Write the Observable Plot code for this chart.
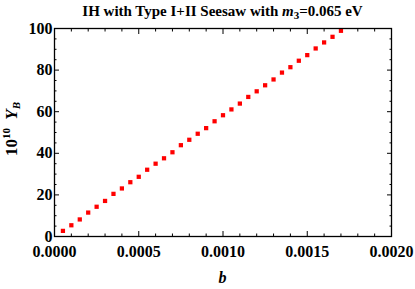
<!DOCTYPE html>
<html>
<head>
<meta charset="utf-8">
<script src="https://cdn.jsdelivr.net/npm/d3@7"></script>
<script src="https://cdn.jsdelivr.net/npm/@observablehq/plot@0.6"></script>
<style>
  html, body { margin: 0; padding: 0; background: #fff; }
  #chart { width: 415px; height: 289px; }
</style>
</head>
<body>
<div id="chart"></div>
<script>
// Data
const bValues = [0.00005, 0.00010, 0.00015, 0.00020, 0.00025, 0.00030, 0.00035, 0.00040, 0.00045, 0.00050,
                 0.00055, 0.00060, 0.00065, 0.00070, 0.00075, 0.00080, 0.00085, 0.00090, 0.00095, 0.00100,
                 0.00105, 0.00110, 0.00115, 0.00120, 0.00125, 0.00130, 0.00135, 0.00140, 0.00145, 0.00150,
                 0.00155, 0.00160, 0.00165, 0.00170];
const YBValues = [2.7, 5.4, 8.2, 11.5, 14.3, 17.1, 20.5, 23.1, 26.1, 28.7,
                  32.1, 35.0, 37.6, 40.5, 43.9, 46.5, 49.4, 52.1, 55.4, 58.3,
                  61.1, 63.9, 67.1, 69.8, 72.7, 75.5, 78.8, 81.4, 84.5, 87.2,
                  90.4, 93.3, 96.0, 98.9];
const xMajorTicks = [0, 0.0005, 0.0010, 0.0015, 0.0020];
const xMinorTicks = [0.0001, 0.0002, 0.0003, 0.0004, 0.0006, 0.0007, 0.0008, 0.0009,
                     0.0011, 0.0012, 0.0013, 0.0014, 0.0016, 0.0017, 0.0018, 0.0019];
const yMajorTicks = [0, 20, 40, 60, 80, 100];
const yMinorTicks = [5, 10, 15, 25, 30, 35, 45, 50, 55, 65, 70, 75, 85, 90, 95];
const titleMain = "IH with Type I+II Seesaw with ";
const titleVar = "m";
const titleSub = "3";
const titleRest = "=0.065 eV";
const xLabel = "b";

const data = bValues.map((b, i) => ({b, y: YBValues[i]}));

const font = "'Liberation Serif', 'Times New Roman', serif";
const noText = () => "";

function tickAxes(axisFn, anchors, major, minor) {
  const out = [];
  for (const anchor of anchors) {
    out.push(axisFn({anchor, ticks: major, tickSize: -5, tickFormat: noText, label: null, strokeWidth: 1}));
    out.push(axisFn({anchor, ticks: minor, tickSize: -2.5, tickFormat: noText, label: null, strokeWidth: 1}));
  }
  return out;
}

const plot = Plot.plot({
  width: 415,
  height: 289,
  marginLeft: 54,
  marginRight: 24,
  marginTop: 28,
  marginBottom: 53,
  x: {domain: [0, 0.002]},
  y: {domain: [0, 100]},
  style: {fontFamily: font, fontWeight: "bold", fontSize: "16px", color: "black", background: "white"},
  marks: [
    ...tickAxes(Plot.axisX, ["bottom", "top"], xMajorTicks, xMinorTicks),
    ...tickAxes(Plot.axisY, ["left", "right"], yMajorTicks, yMinorTicks),
    Plot.axisX({anchor: "bottom", ticks: xMajorTicks, tickSize: 0, tickPadding: 9, tickFormat: d3.format(".4f"), label: null}),
    Plot.axisY({anchor: "left", ticks: yMajorTicks, tickSize: 0, tickPadding: 2, tickFormat: d3.format("d"), label: null}),
    Plot.dot(data, {x: "b", y: "y", symbol: "square", r: 2.4, fill: "#ff0000", stroke: "none"}),
    Plot.frame({stroke: "black", strokeWidth: 1.3})
  ]
});

document.getElementById("chart").appendChild(plot);

// Titles and axis labels with rich formatting
const svg = d3.select(plot);
const xs = plot.scale("x").range;
const ys = plot.scale("y").range;
const cx = (xs[0] + xs[1]) / 2;
const cy = (ys[0] + ys[1]) / 2;

const t = svg.append("text")
  .attr("x", cx).attr("y", 16)
  .attr("text-anchor", "middle")
  .style("font-family", font).style("font-weight", "bold").style("font-size", "15px");
t.append("tspan").text(titleMain);
t.append("tspan").style("font-style", "italic").text(titleVar);
t.append("tspan").attr("dy", 3).style("font-size", "11px").text(titleSub);
t.append("tspan").attr("dy", -3).text(titleRest);

svg.append("text")
  .attr("x", cx).attr("y", 283)
  .attr("text-anchor", "middle")
  .style("font-family", font).style("font-weight", "bold").style("font-style", "italic").style("font-size", "16px")
  .text(xLabel);

const yl = svg.append("text")
  .attr("transform", `translate(17,${cy - 3}) rotate(-90)`)
  .attr("text-anchor", "middle")
  .style("font-family", font).style("font-weight", "bold").style("font-size", "17px");
yl.append("tspan").text("10");
yl.append("tspan").attr("dy", -7).style("font-size", "11px").text("10");
yl.append("tspan").attr("dy", 7).text("\u2002");
yl.append("tspan").style("font-style", "italic").text("Y");
yl.append("tspan").attr("dy", 3).style("font-size", "11px").style("font-style", "italic").text("B");
</script>
</body>
</html>
